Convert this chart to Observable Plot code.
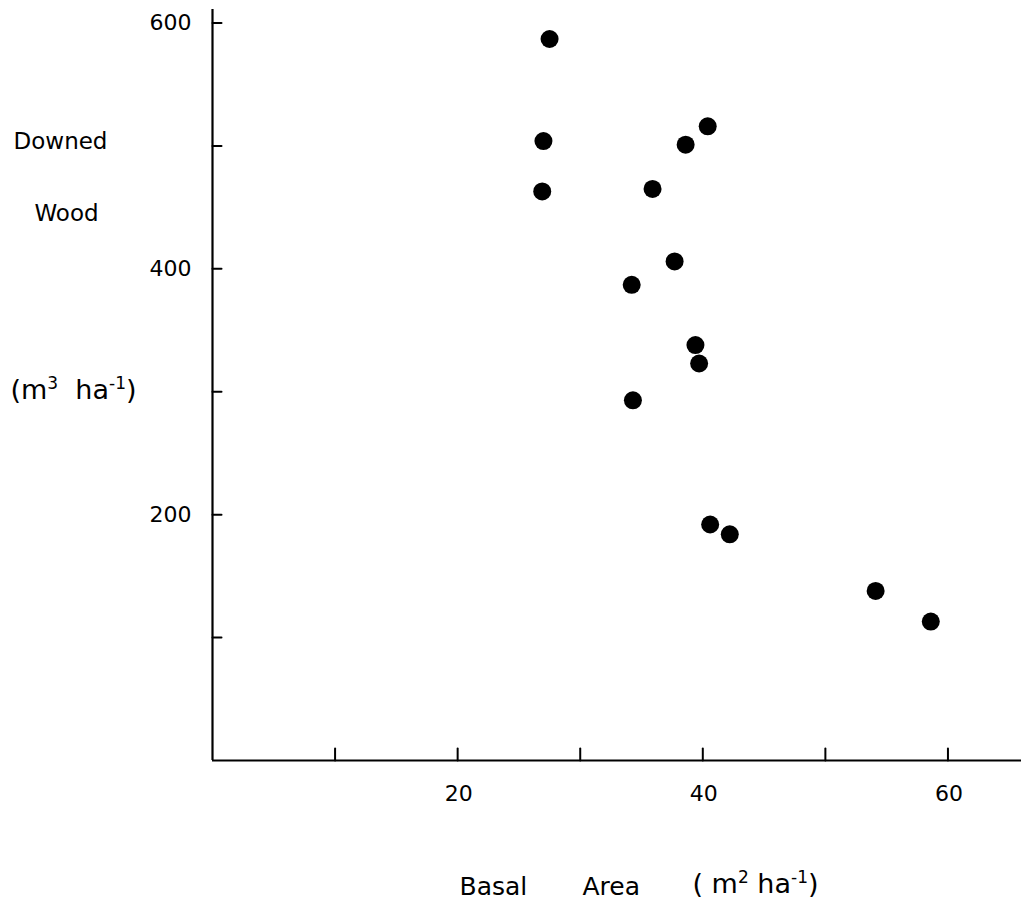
<!DOCTYPE html>
<html>
<head>
<meta charset="utf-8">
<script src="https://cdn.jsdelivr.net/npm/d3@7"></script>
<script src="https://cdn.jsdelivr.net/npm/@observablehq/plot@0.6"></script>
<style>
  html, body { margin: 0; padding: 0; background: #fff; }
  svg { display: block; }
</style>
</head>
<body>
<div id="chart"></div>
<script>
// Basal area (m² ha⁻¹)
const basalArea = [27.5, 27.0, 26.9, 40.4, 38.6, 35.9, 37.7, 34.2, 39.4, 39.7, 34.3, 40.6, 42.2, 54.1, 58.6];
// Downed wood (m³ ha⁻¹)
const downedWood = [587, 504, 463, 516, 501, 465, 406, 387, 338, 323, 293, 192, 184, 138, 113];

const xTicks = [10, 20, 30, 40, 50, 60];
const xTickLabels = [20, 40, 60];
const yTicks = [100, 200, 300, 400, 500, 600];
const yTickLabels = [200, 400, 600];

const yTitleWords = ["Downed", "Wood"];
const xTitleWords = ["Basal", "Area"];
// unit labels: [base, superscript, base, superscript, base]
const yUnitParts = ["(m", "3", "\u00a0\u00a0ha", "-1", ")"];
const xUnitParts = ["(\u00a0m", "2", "\u00a0ha", "-1", ")"];

const points = basalArea.map((x, i) => ({x, y: downedWood[i]}));

const font = "DejaVu Sans";
const tickShape = {draw(context, l) { context.moveTo(0, 0); context.lineTo(0, -l); }};

const chart = Plot.plot({
  width: 1021,
  height: 909,
  marginLeft: 212,
  marginRight: 0,
  marginTop: 9,
  marginBottom: 149,
  style: {fontFamily: font, background: "#fff", color: "#000"},
  x: {domain: [0, 66], axis: null},
  y: {domain: [0, 611], axis: null},
  marks: [
    Plot.ruleX([0], {stroke: "#000", strokeWidth: 2.2}),
    Plot.ruleY([0], {stroke: "#000", strokeWidth: 2.2}),
    Plot.vector(xTicks, {x: d => d, y: () => 0, length: 12, rotate: 0, anchor: "start", shape: tickShape, stroke: "#000", strokeWidth: 2}),
    Plot.vector(yTicks, {x: () => 0, y: d => d, length: 9, rotate: 90, anchor: "start", shape: tickShape, stroke: "#000", strokeWidth: 2}),
    Plot.axisX(xTickLabels, {anchor: "bottom", tickSize: 0, tickPadding: 25, fontSize: 22, letterSpacing: 1.5, fill: "#000", dx: 1, label: null}),
    Plot.axisY(yTickLabels, {anchor: "left", tickSize: 0, tickPadding: 21, fontSize: 22, letterSpacing: 2, fill: "#000", label: null}),
    Plot.text([yTitleWords[0]], {text: d => d, frameAnchor: "top-left", lineAnchor: "middle", dx: -152, dy: 132, textAnchor: "middle", fontSize: 23, fill: "#000"}),
    Plot.text([yTitleWords[1]], {text: d => d, frameAnchor: "top-left", lineAnchor: "middle", dx: -146, dy: 204, textAnchor: "middle", fontSize: 23, fill: "#000", letterSpacing: 0.5}),
    Plot.text([yUnitParts.join("")], {text: d => d, frameAnchor: "top-left", lineAnchor: "middle", dx: -202, dy: 381, textAnchor: "start", fontSize: 27, letterSpacing: 1, fill: "#000", className: "unit-y"}),
    Plot.text([xTitleWords[0]], {text: d => d, frameAnchor: "bottom-left", lineAnchor: "middle", dx: 247, dy: 126, textAnchor: "start", fontSize: 25, letterSpacing: 1.5, fill: "#000"}),
    Plot.text([xTitleWords[1]], {text: d => d, frameAnchor: "bottom-left", lineAnchor: "middle", dx: 370, dy: 126, textAnchor: "start", fontSize: 25, letterSpacing: 0.5, fill: "#000"}),
    Plot.text([xUnitParts.join("")], {text: d => d, frameAnchor: "bottom-left", lineAnchor: "middle", dx: 480, dy: 124, textAnchor: "start", fontSize: 27, letterSpacing: 1, fill: "#000", className: "unit-x"}),
    Plot.dot(points, {x: "x", y: "y", r: 9, fill: "#000", stroke: "none"})
  ]
});

// rebuild unit labels with real superscripts
function superscript(cls, parts) {
  d3.select(chart).selectAll(`.${cls} text`).each(function() {
    const t = d3.select(this);
    t.text(null);
    parts.forEach((p, i) => {
      const sup = i % 2 === 1;
      const s = t.append("tspan").text(p);
      if (sup) s.attr("font-size", "17").attr("dy", "-10");
      else if (i > 0) s.attr("dy", "10");
    });
  });
}
superscript("unit-y", yUnitParts);
superscript("unit-x", xUnitParts);

document.getElementById("chart").appendChild(chart);
</script>
</body>
</html>
